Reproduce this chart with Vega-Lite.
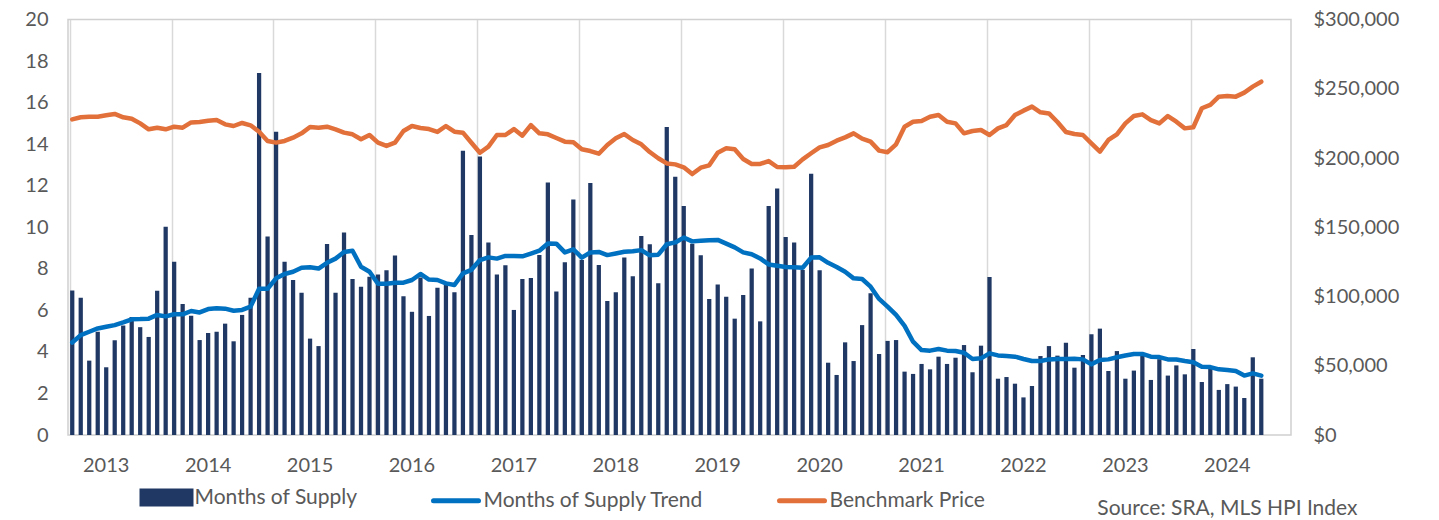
{
  "$schema": "https://vega.github.io/schema/vega-lite/v6.json",
  "width": 1223,
  "height": 415.5,
  "autosize": {"type": "none"},
  "padding": {"left": 68, "top": 19.5, "right": 148, "bottom": 85},
  "background": "white",
  "config": {
    "font": "Lato",
    "view": {"stroke": "#d0d0d0", "strokeWidth": 1.5},
    "axis": {"labelFont": "Lato", "labelColor": "#595959", "labelFontSize": 20, "domain": false, "ticks": false}
  },
  "data": {"values": [
    {"m":"2012-09","s":6.95,"t":4.45,"p":227900},
    {"m":"2012-10","s":6.61,"t":4.81,"p":229400},
    {"m":"2012-11","s":3.58,"t":4.97,"p":229800},
    {"m":"2012-12","s":4.97,"t":5.13,"p":229800},
    {"m":"2013-01","s":3.26,"t":5.21,"p":230800},
    {"m":"2013-02","s":4.56,"t":5.29,"p":231800},
    {"m":"2013-03","s":5.27,"t":5.42,"p":229400},
    {"m":"2013-04","s":5.68,"t":5.57,"p":228400},
    {"m":"2013-05","s":5.19,"t":5.58,"p":225000},
    {"m":"2013-06","s":4.72,"t":5.6,"p":220700},
    {"m":"2013-07","s":6.94,"t":5.78,"p":221900},
    {"m":"2013-08","s":10.03,"t":5.71,"p":220700},
    {"m":"2013-09","s":8.34,"t":5.81,"p":222600},
    {"m":"2013-10","s":6.31,"t":5.81,"p":221900},
    {"m":"2013-11","s":5.74,"t":5.97,"p":225700},
    {"m":"2013-12","s":4.57,"t":5.9,"p":226000},
    {"m":"2014-01","s":4.91,"t":6.06,"p":226900},
    {"m":"2014-02","s":4.97,"t":6.1,"p":227400},
    {"m":"2014-03","s":5.36,"t":6.08,"p":224300},
    {"m":"2014-04","s":4.51,"t":5.98,"p":223100},
    {"m":"2014-05","s":5.78,"t":6.02,"p":225300},
    {"m":"2014-06","s":6.61,"t":6.18,"p":223600},
    {"m":"2014-07","s":17.42,"t":7.04,"p":219000},
    {"m":"2014-08","s":9.56,"t":7.04,"p":212300},
    {"m":"2014-09","s":14.6,"t":7.54,"p":211100},
    {"m":"2014-10","s":8.34,"t":7.75,"p":212300},
    {"m":"2014-11","s":7.46,"t":7.86,"p":214700},
    {"m":"2014-12","s":6.85,"t":8.05,"p":217800},
    {"m":"2015-01","s":4.64,"t":8.07,"p":222400},
    {"m":"2015-02","s":4.28,"t":8.01,"p":221900},
    {"m":"2015-03","s":9.19,"t":8.29,"p":222600},
    {"m":"2015-04","s":6.85,"t":8.49,"p":220700},
    {"m":"2015-05","s":9.75,"t":8.81,"p":218300},
    {"m":"2015-06","s":7.51,"t":8.87,"p":217100},
    {"m":"2015-07","s":7.14,"t":8.1,"p":213500},
    {"m":"2015-08","s":7.62,"t":7.86,"p":216600},
    {"m":"2015-09","s":7.72,"t":7.28,"p":211100},
    {"m":"2015-10","s":7.93,"t":7.28,"p":208700},
    {"m":"2015-11","s":8.64,"t":7.33,"p":211100},
    {"m":"2015-12","s":6.68,"t":7.33,"p":219500},
    {"m":"2016-01","s":5.93,"t":7.46,"p":223100},
    {"m":"2016-02","s":7.58,"t":7.75,"p":221700},
    {"m":"2016-03","s":5.73,"t":7.48,"p":220900},
    {"m":"2016-04","s":7.09,"t":7.46,"p":218800},
    {"m":"2016-05","s":7.25,"t":7.3,"p":223100},
    {"m":"2016-06","s":6.87,"t":7.22,"p":219000},
    {"m":"2016-07","s":13.68,"t":7.78,"p":218300},
    {"m":"2016-08","s":9.63,"t":7.95,"p":211000},
    {"m":"2016-09","s":13.4,"t":8.42,"p":203800},
    {"m":"2016-10","s":9.27,"t":8.55,"p":208200},
    {"m":"2016-11","s":7.73,"t":8.49,"p":216600},
    {"m":"2016-12","s":8.17,"t":8.62,"p":216600},
    {"m":"2017-01","s":6.02,"t":8.62,"p":220900},
    {"m":"2017-02","s":7.51,"t":8.6,"p":216100},
    {"m":"2017-03","s":7.56,"t":8.73,"p":223800},
    {"m":"2017-04","s":8.66,"t":8.87,"p":217800},
    {"m":"2017-05","s":12.16,"t":9.22,"p":217100},
    {"m":"2017-06","s":6.91,"t":9.21,"p":214400},
    {"m":"2017-07","s":8.31,"t":8.79,"p":211800},
    {"m":"2017-08","s":11.34,"t":8.94,"p":211300},
    {"m":"2017-09","s":8.42,"t":8.54,"p":206300},
    {"m":"2017-10","s":12.13,"t":8.79,"p":205000},
    {"m":"2017-11","s":8.18,"t":8.81,"p":203100},
    {"m":"2017-12","s":6.45,"t":8.66,"p":209400},
    {"m":"2018-01","s":6.87,"t":8.74,"p":214200},
    {"m":"2018-02","s":8.54,"t":8.82,"p":217300},
    {"m":"2018-03","s":7.64,"t":8.84,"p":213000},
    {"m":"2018-04","s":9.58,"t":8.9,"p":209900},
    {"m":"2018-05","s":9.18,"t":8.65,"p":204300},
    {"m":"2018-06","s":7.3,"t":8.68,"p":199800},
    {"m":"2018-07","s":14.82,"t":9.18,"p":196100},
    {"m":"2018-08","s":12.43,"t":9.27,"p":195400},
    {"m":"2018-09","s":11.02,"t":9.5,"p":193300},
    {"m":"2018-10","s":9.2,"t":9.32,"p":188400},
    {"m":"2018-11","s":8.65,"t":9.35,"p":193000},
    {"m":"2018-12","s":6.55,"t":9.37,"p":194700},
    {"m":"2019-01","s":7.25,"t":9.39,"p":203800},
    {"m":"2019-02","s":6.66,"t":9.21,"p":207000},
    {"m":"2019-03","s":5.6,"t":9.03,"p":206300},
    {"m":"2019-04","s":6.74,"t":8.79,"p":199300},
    {"m":"2019-05","s":8.02,"t":8.7,"p":195700},
    {"m":"2019-06","s":5.47,"t":8.5,"p":195700},
    {"m":"2019-07","s":11.02,"t":8.21,"p":197800},
    {"m":"2019-08","s":11.87,"t":8.15,"p":193500},
    {"m":"2019-09","s":9.53,"t":8.09,"p":193300},
    {"m":"2019-10","s":9.27,"t":8.07,"p":193700},
    {"m":"2019-11","s":7.94,"t":8.05,"p":199000},
    {"m":"2019-12","s":12.58,"t":8.54,"p":203400},
    {"m":"2020-01","s":7.93,"t":8.55,"p":207700},
    {"m":"2020-02","s":3.48,"t":8.29,"p":209400},
    {"m":"2020-03","s":2.89,"t":8.09,"p":212500},
    {"m":"2020-04","s":4.46,"t":7.86,"p":214900},
    {"m":"2020-05","s":3.56,"t":7.54,"p":217800},
    {"m":"2020-06","s":5.29,"t":7.51,"p":214000},
    {"m":"2020-07","s":6.82,"t":7.14,"p":211800},
    {"m":"2020-08","s":3.9,"t":6.55,"p":205300},
    {"m":"2020-09","s":4.53,"t":6.18,"p":204200},
    {"m":"2020-10","s":4.57,"t":5.78,"p":209900},
    {"m":"2020-11","s":3.05,"t":5.25,"p":222600},
    {"m":"2020-12","s":2.94,"t":4.49,"p":226200},
    {"m":"2021-01","s":3.42,"t":4.09,"p":226700},
    {"m":"2021-02","s":3.16,"t":4.06,"p":229800},
    {"m":"2021-03","s":3.77,"t":4.14,"p":231000},
    {"m":"2021-04","s":3.42,"t":4.06,"p":226200},
    {"m":"2021-05","s":3.72,"t":4.04,"p":225000},
    {"m":"2021-06","s":4.33,"t":3.96,"p":217800},
    {"m":"2021-07","s":3.02,"t":3.66,"p":219500},
    {"m":"2021-08","s":4.3,"t":3.69,"p":220200},
    {"m":"2021-09","s":7.6,"t":3.93,"p":216600},
    {"m":"2021-10","s":2.71,"t":3.83,"p":221400},
    {"m":"2021-11","s":2.79,"t":3.8,"p":223800},
    {"m":"2021-12","s":2.47,"t":3.77,"p":231000},
    {"m":"2022-01","s":1.81,"t":3.66,"p":234200},
    {"m":"2022-02","s":2.36,"t":3.56,"p":237100},
    {"m":"2022-03","s":3.8,"t":3.56,"p":233000},
    {"m":"2022-04","s":4.28,"t":3.64,"p":232200},
    {"m":"2022-05","s":3.82,"t":3.66,"p":226000},
    {"m":"2022-06","s":4.44,"t":3.66,"p":218800},
    {"m":"2022-07","s":3.24,"t":3.67,"p":217300},
    {"m":"2022-08","s":3.85,"t":3.64,"p":216600},
    {"m":"2022-09","s":4.85,"t":3.4,"p":210600},
    {"m":"2022-10","s":5.12,"t":3.61,"p":204600},
    {"m":"2022-11","s":3.08,"t":3.64,"p":213000},
    {"m":"2022-12","s":4.04,"t":3.74,"p":217100},
    {"m":"2023-01","s":2.71,"t":3.83,"p":225000},
    {"m":"2023-02","s":3.1,"t":3.9,"p":230300},
    {"m":"2023-03","s":3.9,"t":3.9,"p":231500},
    {"m":"2023-04","s":2.65,"t":3.77,"p":227400},
    {"m":"2023-05","s":3.65,"t":3.75,"p":225000},
    {"m":"2023-06","s":2.86,"t":3.64,"p":230300},
    {"m":"2023-07","s":3.35,"t":3.63,"p":226200},
    {"m":"2023-08","s":2.92,"t":3.56,"p":221400},
    {"m":"2023-09","s":4.14,"t":3.5,"p":222200},
    {"m":"2023-10","s":2.55,"t":3.29,"p":235900},
    {"m":"2023-11","s":3.18,"t":3.27,"p":238300},
    {"m":"2023-12","s":2.17,"t":3.16,"p":244300},
    {"m":"2024-01","s":2.45,"t":3.13,"p":244800},
    {"m":"2024-02","s":2.33,"t":3.08,"p":244300},
    {"m":"2024-03","s":1.78,"t":2.86,"p":247200},
    {"m":"2024-04","s":3.74,"t":2.97,"p":251500},
    {"m":"2024-05","s":2.71,"t":2.86,"p":255100}
  ]},
  "encoding": {
    "x": {
      "field": "m", "type": "ordinal",
      "scale": {
        "paddingInner": 0.5, "paddingOuter": 0.25,
        "domain": ["2012-09","2012-10","2012-11","2012-12","2013-01","2013-02","2013-03","2013-04","2013-05","2013-06","2013-07","2013-08","2013-09","2013-10","2013-11","2013-12","2014-01","2014-02","2014-03","2014-04","2014-05","2014-06","2014-07","2014-08","2014-09","2014-10","2014-11","2014-12","2015-01","2015-02","2015-03","2015-04","2015-05","2015-06","2015-07","2015-08","2015-09","2015-10","2015-11","2015-12","2016-01","2016-02","2016-03","2016-04","2016-05","2016-06","2016-07","2016-08","2016-09","2016-10","2016-11","2016-12","2017-01","2017-02","2017-03","2017-04","2017-05","2017-06","2017-07","2017-08","2017-09","2017-10","2017-11","2017-12","2018-01","2018-02","2018-03","2018-04","2018-05","2018-06","2018-07","2018-08","2018-09","2018-10","2018-11","2018-12","2019-01","2019-02","2019-03","2019-04","2019-05","2019-06","2019-07","2019-08","2019-09","2019-10","2019-11","2019-12","2020-01","2020-02","2020-03","2020-04","2020-05","2020-06","2020-07","2020-08","2020-09","2020-10","2020-11","2020-12","2021-01","2021-02","2021-03","2021-04","2021-05","2021-06","2021-07","2021-08","2021-09","2021-10","2021-11","2021-12","2022-01","2022-02","2022-03","2022-04","2022-05","2022-06","2022-07","2022-08","2022-09","2022-10","2022-11","2022-12","2023-01","2023-02","2023-03","2023-04","2023-05","2023-06","2023-07","2023-08","2023-09","2023-10","2023-11","2023-12","2024-01","2024-02","2024-03","2024-04","2024-05","2024-06","2024-07","2024-08"]
      },
      "axis": {
        "title": "Source: SRA, MLS HPI Index",
        "titleFont": "Lato",
        "titleFontSize": 21,
        "titleFontWeight": "normal",
        "titleColor": "#595959",
        "titleAnchor": "end",
        "titleAlign": "right",
        "titleBaseline": "middle",
        "titleX": 1289,
        "titleY": 73,
        "bandPosition": 0,
        "labelAngle": 0,
        "labelOffset": 0,
        "labelPadding": 20,
        "labelOverlap": false,
        "labelFlush": false,
        "labelBound": false,
        "labelExpr": "slice(datum.value, 5, 7) == '01' ? slice(datum.value, 0, 4) : ''",
        "grid": true,
        "gridColor": "#d9d9d9",
        "gridWidth": 1.5,
        "gridOpacity": {"condition": {"test": "slice(datum.value, 5, 7) == '09'", "value": 1}, "value": 0}
      }
    }
  },
  "layer": [
    {
      "mark": {"type": "bar"},
      "encoding": {
        "y": {"field": "s", "type": "quantitative", "scale": {"domain": [0, 20]},
              "axis": {"orient": "left", "title": null, "values": [0,2,4,6,8,10,12,14,16,18,20], "labelPadding": 20, "grid": false}},
        "color": {
          "datum": "Months of Supply",
          "scale": {"domain": ["Months of Supply", "Months of Supply Trend", "Benchmark Price"], "range": ["#203864", "#0070C0", "#E2703A"]},
          "legend": {
            "title": null,
            "orient": "none",
            "direction": "horizontal",
            "legendX": 72,
            "legendY": 467.5,
            "symbolSize": 100,
            "symbolStrokeWidth": 5,
            "symbolOffset": -8.5,
            "columnPadding": 65,
            "labelFont": "Lato",
            "labelFontSize": 21,
            "labelColor": "#595959",
            "labelOffset": 42,
            "labelLimit": 0,
            "encode": {
              "symbols": {
                "update": {
                  "shape": {"signal": "datum.value === 'Months of Supply' ? 'M0,-1.3L9.8,-1.3L9.8,1.3L0,1.3Z' : 'M0.5,0L9.5,0'"},
                  "fill": {"signal": "datum.value === 'Months of Supply' ? '#203864' : 'transparent'"},
                  "stroke": {"signal": "datum.value === 'Months of Supply' ? 'transparent' : (datum.value === 'Benchmark Price' ? '#E2703A' : '#0070C0')"},
                  "strokeWidth": {"value": 5},
                  "strokeCap": {"value": "round"},
                  "opacity": {"value": 1}
                }
              }
            }
          }
        }
      }
    },
    {
      "mark": {"type": "line", "strokeWidth": 4.5, "strokeJoin": "round", "strokeCap": "round"},
      "encoding": {
        "y": {"field": "t", "type": "quantitative", "scale": {"domain": [0, 20]}, "axis": null},
        "color": {"datum": "Months of Supply Trend"}
      }
    },
    {
      "mark": {"type": "line", "strokeWidth": 4.5, "strokeJoin": "round", "strokeCap": "round"},
      "encoding": {
        "y": {"field": "p", "type": "quantitative", "scale": {"domain": [0, 300000]},
              "axis": {"orient": "right", "title": null, "format": "$,.0f", "values": [0,50000,100000,150000,200000,250000,300000], "labelPadding": 22, "grid": false}},
        "color": {"datum": "Benchmark Price"}
      }
    }
  ],
  "resolve": {"scale": {"y": "independent"}}
}
